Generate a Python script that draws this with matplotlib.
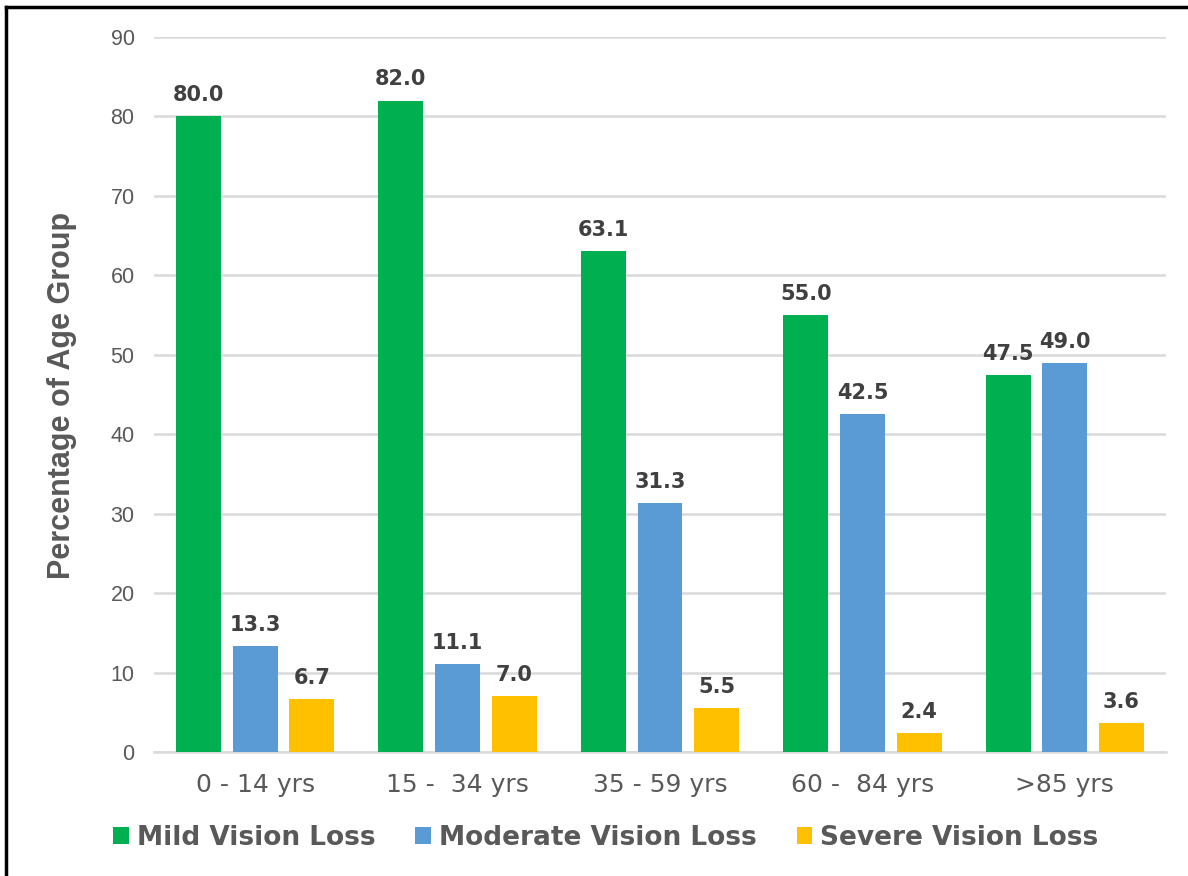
import numpy as np
import matplotlib.pyplot as plt
from matplotlib.patches import Patch
from matplotlib.lines import Line2D

# data
age_groups = ["0 - 14 yrs", "15 -  34 yrs", "35 - 59 yrs", "60 -  84 yrs", ">85 yrs"]
mild = [80.0, 82.0, 63.1, 55.0, 47.5]
moderate = [13.3, 11.1, 31.3, 42.5, 49.0]
severe = [6.7, 7.0, 5.5, 2.4, 3.6]
series_names = ["Mild Vision Loss", "Moderate Vision Loss", "Severe Vision Loss"]

colors = ["#00B050", "#5B9BD5", "#FFC000"]
text_gray = "#595959"

fig = plt.figure(figsize=(11.88, 8.76), dpi=100)
ax = fig.add_axes([154 / 1188, 1 - 752 / 876, 1012 / 1188, 715 / 876])

x = np.arange(len(age_groups))
width = 0.222
step = 0.28
for i, (vals, name) in enumerate(zip([mild, moderate, severe], series_names)):
    pos = x + (i - 1) * step
    bars = ax.bar(pos, vals, width=width, color=colors[i], label=name, zorder=3)
    for b, v in zip(bars, vals):
        ax.annotate("%.1f" % v, (b.get_x() + b.get_width() / 2, v),
                    xytext=(0, 8), textcoords="offset points",
                    ha="center", va="bottom", fontsize=15, fontweight="bold",
                    color="#404040", family="DejaVu Sans")

ax.set_xlim(-0.5, len(age_groups) - 0.5)
ax.set_ylim(0, 90)
ax.set_yticks(range(0, 91, 10))
ax.yaxis.grid(True, color="#D9D9D9", lw=1.8, zorder=0)
ax.set_axisbelow(True)
for s in ["top", "right", "left"]:
    ax.spines[s].set_visible(False)
ax.spines["bottom"].set_color("#D9D9D9")
ax.spines["bottom"].set_linewidth(1.8)
ax.tick_params(axis="both", length=0)
ax.tick_params(axis="y", pad=14, labelsize=15.5, labelcolor=text_gray)
ax.tick_params(axis="x", pad=15, labelsize=18, labelcolor=text_gray)
for lab in ax.get_yticklabels():
    lab.set_family("Liberation Sans")
ax.set_xticks(x)
ax.set_xticklabels(age_groups, family="DejaVu Sans")

ax.set_ylabel("Percentage of Age Group", fontsize=22, fontweight="bold",
              color=text_gray, family="Liberation Sans")
ax.yaxis.set_label_coords(77 / 1188, 1 - 395 / 876, transform=fig.transFigure)

handles = [Patch(facecolor=c, edgecolor="none") for c in colors]
fig.legend(handles, series_names, loc="center", ncol=3,
           bbox_to_anchor=(606 / 1188, 1 - 838 / 876), frameon=False,
           prop={"family": "DejaVu Sans", "weight": "bold", "size": 19},
           labelcolor=text_gray, handlelength=0.6, handleheight=0.6,
           handletextpad=0.3, columnspacing=1.5)

# frame around the picture (top and left edges visible)
fig.add_artist(Line2D([6 / 1188, 6 / 1188], [0, 1 - 7 / 876], color="black", lw=2.5,
                      transform=fig.transFigure))
fig.add_artist(Line2D([6 / 1188, 1], [1 - 7 / 876, 1 - 7 / 876], color="black", lw=2.5,
                      transform=fig.transFigure))

fig.savefig("out.png", dpi=100)
